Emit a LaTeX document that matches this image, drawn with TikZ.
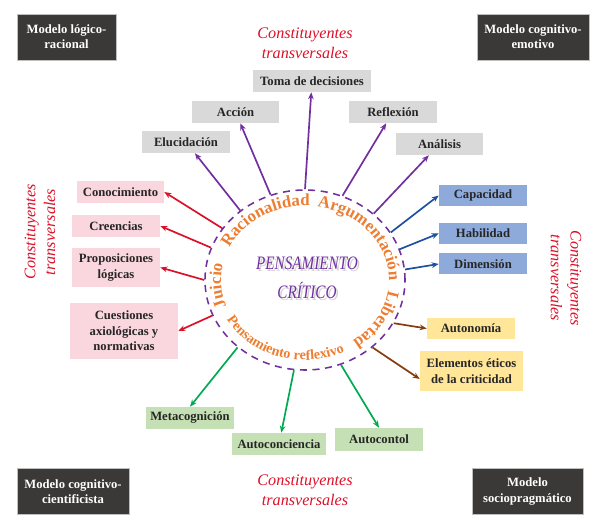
\documentclass[tikz,border=0pt]{standalone}
\usepackage{fontspec}
\setmainfont{Liberation Serif}
\usetikzlibrary{arrows.meta, positioning, shapes.geometric, decorations.text}

\definecolor{cmorado}{RGB}{112,48,160}
\definecolor{cnaranja}{RGB}{237,125,49}
\definecolor{crojo}{RGB}{220,16,40}
\definecolor{cazul}{RGB}{30,80,160}
\definecolor{ccafe}{RGB}{132,60,12}
\definecolor{cverde}{RGB}{0,170,80}
\definecolor{cgris}{RGB}{217,217,217}
\definecolor{crosa}{RGB}{250,214,222}
\definecolor{cceleste}{RGB}{142,170,219}
\definecolor{camarillo}{RGB}{255,230,153}
\definecolor{cpasto}{RGB}{197,224,180}
\definecolor{coscuro}{RGB}{59,56,56}
\definecolor{ctexto}{RGB}{38,38,38}

\newcommand{\fuentearco}{\fontsize{12}{13}\selectfont\bfseries}
\newcommand{\estrecho}[1]{\scalebox{0.8}[1]{#1}}

\begin{document}
\begin{tikzpicture}[x=0.025cm, y=0.025cm, >={Stealth[length=5pt, width=4pt]},
    modelo/.style={rectangle, fill=coscuro, draw=gray!50, line width=0.6pt, text=white,
      font=\fontsize{9}{10.7}\selectfont\bfseries, align=center, minimum width=2.8cm, minimum height=1.15cm},
    caja/.style={rectangle, text=ctexto, font=\fontsize{9}{11}\selectfont\bfseries, align=center,
      minimum width=2.2cm, minimum height=0.55cm, inner sep=1pt},
    eje/.style={text=crojo, font=\fontsize{11.5}{14}\selectfont\itshape, align=center},
    flecha/.style={->, line width=1.2pt},
    curva/.style={decorate, decoration={text along path, text align=center, text color=cnaranja}}]
  \useasboundingbox (0,0) rectangle (599,530);

  % modelos en las esquinas
  \node[modelo, minimum width=2.475cm] (mlr) at (66.5,493) {Modelo lógico-\\racional};
  \node[modelo] (mce) at (533,493) {Modelo cognitivo-\\emotivo};
  \node[modelo] (mcc) at (73,38.5) {Modelo cognitivo-\\cientificista};
  \node[modelo, minimum width=2.775cm] (msp) at (527.5,38.5) {Modelo\\sociopragmático};

  % constituyentes transversales
  \node[eje] (ctop) at (305,487) {Constituyentes\\transversales};
  \node[eje] (cbot) at (305,40) {Constituyentes\\transversales};
  \node[eje, rotate=90] (cizq) at (40,298) {Constituyentes\\transversales};
  \node[eje, rotate=-90] (cder) at (566,252) {Constituyentes\\transversales};

  % elipse central
  \node[ellipse, draw=cmorado, line width=1.1pt, dash pattern=on 5pt off 4pt,
    minimum width=5cm, minimum height=4.5cm, inner sep=0pt] (E) at (305,250) {};
  \node[text=gray!35, font=\fontsize{13.5}{20.5}\selectfont\itshape, align=center] (sombra) at (309,250) {\estrecho{PENSAMIENTO}\\\estrecho{CRÍTICO}};
  \node[text=cmorado, font=\fontsize{13.5}{20.5}\selectfont\itshape, align=center] (pc) at (307,252) {\estrecho{PENSAMIENTO}\\\estrecho{CRÍTICO}};

  % textos sobre la elipse
  \path[curva, decoration={text={|\fuentearco|Racionalidad}}]
    (E.center) ++(163:84 and 74) arc[start angle=163, end angle=79, x radius=84, y radius=74];
  \path[curva, decoration={text={|\fuentearco|Argumentación}}]
    (E.center) ++(90:84 and 74) arc[start angle=90, end angle=-10, x radius=84, y radius=74];
  \path[curva, decoration={text={|\fuentearco|Libertad}}]
    (E.center) ++(8:84 and 74) arc[start angle=8, end angle=-70, x radius=84, y radius=74];
  \path[curva, decoration={text={|\fuentearco|Juicio}}]
    (E.center) ++(219:84 and 74) arc[start angle=219, end angle=149, x radius=84, y radius=74];
  \path[curva, decoration={text={|\fontsize{10}{11}\selectfont\bfseries|Pensamiento reflexivo}}]
    (E.center) ++(198:90 and 80) arc[start angle=198, end angle=307, x radius=90, y radius=80];

  % cajas grises
  \node[caja, fill=cgris, minimum width=2.95cm] (toma) at (312,449) {Toma de decisiones};
  \node[caja, fill=cgris, minimum width=2.175cm] (accion) at (235.5,418) {Acción};
  \node[caja, fill=cgris] (eluc) at (186,388) {Elucidación};
  \node[caja, fill=cgris] (refl) at (393,418) {Reflexión};
  \node[caja, fill=cgris, minimum width=2.175cm] (anal) at (439.5,386) {Análisis};

  % cajas rosadas
  \node[caja, fill=crosa, minimum width=2.175cm] (cono) at (120.5,338) {Conocimiento};
  \node[caja, fill=crosa] (cree) at (116,304) {Creencias};
  \node[caja, fill=crosa, minimum height=0.975cm] (prop) at (116,262.5) {Proposiciones\\lógicas};
  \node[caja, fill=crosa, minimum width=2.7cm, minimum height=1.4cm] (cues) at (124,199) {Cuestiones\\axiológicas y\\normativas};

  % cajas azules
  \node[caja, fill=cceleste, minimum height=0.525cm] (capa) at (483,334.5) {Capacidad};
  \node[caja, fill=cceleste, minimum height=0.525cm] (habi) at (483,296.5) {Habilidad};
  \node[caja, fill=cceleste, minimum height=0.525cm] (dime) at (483,266) {Dimensión};

  % cajas amarillas
  \node[caja, fill=camarillo, minimum height=0.525cm] (auton) at (471,201.5) {Autonomía};
  \node[caja, fill=camarillo, minimum width=2.575cm, minimum height=1cm] (elem) at (471.5,159) {Elementos éticos\\de la criticidad};

  % cajas verdes
  \node[caja, fill=cpasto] (meta) at (190,112) {Metacognición};
  \node[caja, fill=cpasto, minimum width=2.35cm] (autoci) at (279,86) {Autoconciencia};
  \node[caja, fill=cpasto, minimum height=0.575cm] (autoco) at (379,90.5) {Autocontol};

  % flechas
  \draw[flecha, cmorado] (E.133) -- (eluc);
  \draw[flecha, cmorado] (E.112) -- (accion);
  \draw[flecha, cmorado] (E.90) -- (toma);
  \draw[flecha, cmorado] (E.66) -- (refl);
  \draw[flecha, cmorado] (E.44) -- (anal);

  \draw[flecha, cazul] (E.29) -- (capa.west);
  \draw[flecha, cazul] (E.18) -- (habi.west);
  \draw[flecha, cazul] (E.6) -- (dime.west);

  \draw[flecha, ccafe] (E.334) -- (auton.west);
  \draw[flecha, ccafe] (E.315) -- ([yshift=-2mm]elem.west);

  \draw[flecha, cverde] (E.293) -- (autoco.north);
  \draw[flecha, cverde] (E.263) -- (autoci);
  \draw[flecha, cverde] (E.225) -- (meta.north);

  \draw[flecha, crojo] (E.201) -- (cues.east);
  \draw[flecha, crojo] (E.180) -- (prop.east);
  \draw[flecha, crojo] (E.161) -- (cree.east);
  \draw[flecha, crojo] (E.148) -- (cono.east);
\end{tikzpicture}
\end{document}
